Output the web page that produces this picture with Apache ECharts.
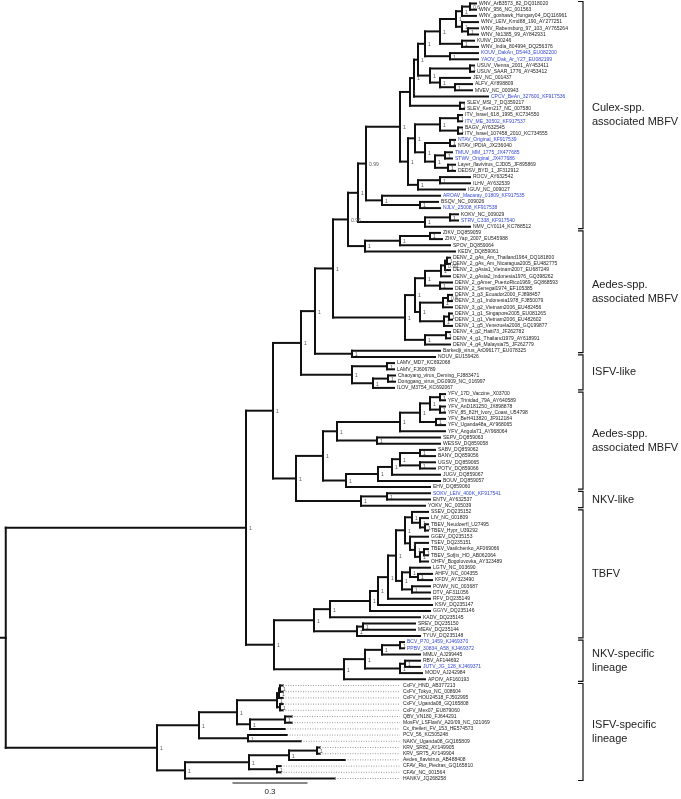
<!DOCTYPE html>
<html><head><meta charset="utf-8">
<script src="https://cdn.jsdelivr.net/npm/echarts@6/dist/echarts.min.js"></script>
<style>html,body{margin:0;padding:0;background:#fff}#c{width:681px;height:799px}</style>
</head><body><div id="c"></div>
<script>
// ================= DATA (Newick pieces: name:branchLength, internal label = support) =================
const wnvClade = "((((WNV_ArB3573_82_DQ318020:0.024,WNV_956_NC_001563:0.024)0.6:0.032,WNV_goshawk_Hungary04_DQ116961:0.056)1:0.024,(WNV_LEIV_Krnd88_190_AY277251:0.064,(WNV_Rabensburg_97_103_AY765264:0.04,WNV_Nt1385_99_AY842931:0.04)1:0.024)1:0.024)1:0.064,(KUNV_D00246:0.048,WNV_India_804994_DQ256376:0.064)1:0.088)1:0.06";
const jeClade = "((" + wnvClade + ",(KOUV_DakAn_D5443_EU082200:0.112,YAOV_Dak_Ar_Y27_EU082199:0.112)1:0.1)1:0.028,((USUV_Vienna_2001_AY453411:0.016,USUV_SAAR_1776_AY453412:0.016)1:0.16,(JEV_NC_001437:0.12,(ALFV_AY898809:0.068,MVEV_NC_000943:0.068)1:0.06)1:0.04)1:0.048)1:0.016";
const ntayaClade = "(((ITV_Israel_618_1995_KC734550:0.016,ITV_ME_30502_KF917537:0.016)1:0.072,(BAGV_AY632545:0.016,ITV_Israel_107458_2010_KC734555:0.016)1:0.072)1:0.1,((NTAV_Original_KF917539:0.02,NTAV_IPDIA_JX236040:0.02)1:0.1,((TMUV_MM_1775_JX477685:0.028,STWV_Original_JX477686:0.028)1:0.04,(Layer_flavivirus_CJD05_JF895869:0.028,DEDSV_BYD_1_JF312912:0.028)1:0.052)1:0.04)1:0.04)1:0.028";
const culexBig = "(((" + jeClade + ",CPCV_BeAn_327600_KF917536:0.296)1:0.016,(SLEV_MSI_7_DQ359217:0.016,SLEV_Kern217_NC_007580:0.016)1:0.2)1:0.04,(" + ntayaClade + ",((ROCV_AY632542:0.12,ILHV_AY632539:0.12)1:0.088,IGUV_NC_009027:0.188)1:0.04)1:0.032)1:0.136";
const culexClade = "((" + culexBig + ",(AROAV_Macaray_01809_KF917535:0.232,(BSQV_NC_009026:0.072,NJLV_25008_KF917538:0.08)1:0.152)1:0.064)0.99:0.032,((KOKV_NC_009029:0.032,STRV_C338_KF917540:0.032)1:0.1,NMV_CY0114_KC788512:0.18)1:0.268)1:0.04";
const zikaClade = "(((ZIKV_DQ859059:0.04,ZIKV_Yap_2007_EU545988:0.048)1:0.12,SPOV_DQ859064:0.2)1:0.14,KEDV_DQ859061:0.36)1:0.068";
const denvClade = "((((((DENV_2_gAs_Am_Thailand1964_DQ181800:0.012,DENV_2_gAs_Am_Nicaragua2005_EU482775:0.012)1:0.008,DENV_2_gAsia1_Vietnam2007_EU687249:0.02)0.99:0.016,DENV_2_gAsia2_Indonesia1976_GQ398262:0.036)1:0.064,(DENV_2_gAmer_PuertoRico1969_GQ868593:0.048,DENV_2_Senegal1974_EF105385:0.048)1:0.06)1:0.04,(((DENV_3_g3_Ecuador2000_FJ898457:0.016,DENV_3_g1_Indonesia1978_FJ850079:0.016)0.5:0.02,DENV_3_g2_Vietnam2006_EU482456:0.036)1:0.092,((DENV_1_g1_Singapore2005_EU081265:0.012,DENV_1_g1_Vietnam2006_EU482602:0.012)1:0.02,DENV_1_g5_Venezuela2008_GQ199877:0.032)1:0.096)1:0.02)1:0.04,((DENV_4_g2_Haiti73_JF262782:0.016,DENV_4_g1_Thailand1979_AY618991:0.016)1:0.084,DENV_4_g4_Malaysia75_JF262779:0.1)1:0.08)1:0.288";
const isfvLikeClade = "((LAMV_MD7_KC692068:0.028,LAMV_FJ606789:0.028)1:0.14,((Chaoyang_virus_Deming_FJ883471:0.028,Donggang_virus_DG0909_NC_016997:0.028)1:0.06,ILOV_M3754_KC692067:0.084)1:0.084)1:0.204";
const mbfvUpper = "((((" + culexClade + "," + zikaClade + ")0.95:0.06," + denvClade + ")1:0.072,(Barkedji_virus_ArD96177_EU078325:0.352,NOUV_EU159426:0.332)1:0.148)1:0.056," + isfvLikeClade + ")1:0.112";
const yfvClade = "((((((YFV_17D_Vaccine_X03700:0.02,YFV_Trinidad_79A_AY640589:0.02)1:0.04,(YFV_AnD181250_JX898878:0.02,YFV_85_82H_Ivory_Coast_U54798:0.02)1:0.04)1:0.04,(YFV_BeH413820_JF912184:0.036,YFV_Uganda48a_AY968065:0.036)1:0.064)1:0.08,YFV_Angola71_AY968064:0.18)1:0.252,(SEPV_DQ859063:0.252,WESSV_DQ859058:0.252)1:0.16)1:0.056,(((((SABV_DQ859062:0.06,BANV_DQ859056:0.06)1:0.08,(UGSV_DQ859065:0.06,POTV_DQ859066:0.06)1:0.08)1:0.032,JUGV_DQ859067:0.192)1:0.056,BOUV_DQ859057:0.248)1:0.128,EHV_DQ859060:0.336)1:0.092)1:0.108";
const nkvLikeClade = "((SOKV_LEIV_400K_KF917541:0.172,ENTV_AY632537:0.172)1:0.104,YOKV_NC_005039:0.256)1:0.26";
const tbfvMammal = "(((SSEV_DQ235152:0.064,(LIV_NC_001809:0.032,(TBEV_Neudoerfl_U27495:0.012,TBEV_Hypr_U39292:0.012)1:0.02)1:0.032)1:0.028,(GGEV_DQ235153:0.072,(TSEV_DQ235151:0.052,((TBEV_Vasilchenko_AF069066:0.016,TBEV_Sofjin_HO_AB062064:0.016)1:0.016,OHFV_Bogoluvovka_AY323489:0.032)1:0.02)1:0.02)1:0.02)1:0.036,((LGTV_NC_003690:0.08,(AHFV_NC_004355:0.056,KFDV_AY323490:0.056)1:0.032)1:0.032,(POWV_NC_003687:0.072,DTV_AF311056:0.072)1:0.04)1:0.024)1:0.032";
const tbfvClade = "(((((" + tbfvMammal + ",RFV_DQ235149:0.168)1:0.04,KSIV_DQ235147:0.216)1:0.032,GGYV_DQ235146:0.24)1:0.16,KADV_DQ235145:0.36)1:0.064,((SREV_DQ235150:0.208,MEAV_DQ235144:0.208)1:0.024,TYUV_DQ235148:0.252)1:0.172)1:0.16";
const nkvSpecClade = "((((BCV_P70_1459_KJ469370:0.016,PPBV_30834_A58_KJ469372:0.016)1:0.072,MMLV_AJ299445:0.152)1:0.068,((RBV_AF144692:0.06,JUTV_JG_128_KJ469371:0.06)1:0.02,MODV_AJ242984:0.088)1:0.14)1:0.084,APOIV_AF160193:0.324)1:0.28";
const isfvSpecClade = "((((((CxFV_HND_AB377213:0.012,CxFV_Tokyo_NC_008604:0.012)1:0.004,CxFV_HOU24518_FJ502995:0.016)1:0.008,(CxFV_Uganda08_GQ165808:0.012,CxFV_Mex07_EU879060:0.012)1:0.012)1:0.16,((QBV_VN180_FJ644291:0.028,MosFV_LSFlaviV_A20/09_NC_021069:0.028)1:0.14,Cx_theileri_FV_153_HE574573:0.14)1:0.052)1:0.152,(PCV_56_KC505248:0.156,NAKV_Uganda08_GQ165809:0.212)1:0.196)1:0.168,((((KRV_SR82_AY149905:0.012,KRV_SR75_AY149904:0.012)1:0.112,Aedes_flavivirus_AB488408:0.224)1:0.16,(CFAV_Rio_Piedras_GQ165810:0.016,CFAV_NC_001564:0.016)1:0.112)1:0.256,HANKV_JQ268258:0.6)1:0.112)1:0.605";
const treeNewick = "((((" + mbfvUpper + ",(" + yfvClade + "," + nkvLikeClade + ")1:0.092)1:0.108,(" + tbfvClade + "," + nkvSpecClade + ")1:0.112)1:0.961," + isfvSpecClade + "):0.023;";

const blueTaxa = ["KOUV_DakAn_D5443_EU082200","YAOV_Dak_Ar_Y27_EU082199","CPCV_BeAn_327600_KF917536","ITV_ME_30502_KF917537","NTAV_Original_KF917539","TMUV_MM_1775_JX477685","STWV_Original_JX477686","AROAV_Macaray_01809_KF917535","NJLV_25008_KF917538","STRV_C338_KF917540","SOKV_LEIV_400K_KF917541","BCV_P70_1459_KJ469370","PPBV_30834_A58_KJ469372","JUTV_JG_128_KJ469371"];
const dottedTaxa = ["CxFV_HND_AB377213","CxFV_Tokyo_NC_008604","CxFV_HOU24518_FJ502995","CxFV_Uganda08_GQ165808","CxFV_Mex07_EU879060","QBV_VN180_FJ644291","MosFV_LSFlaviV_A20/09_NC_021069","Cx_theileri_FV_153_HE574573","PCV_56_KC505248","NAKV_Uganda08_GQ165809","KRV_SR82_AY149905","KRV_SR75_AY149904","Aedes_flavivirus_AB488408","CFAV_Rio_Piedras_GQ165810","CFAV_NC_001564","HANKV_JQ268258"];
const groupNames = [["Culex-spp.","associated MBFV"],["Aedes-spp.","associated MBFV"],["ISFV-like"],["Aedes-spp.","associated MBFV"],["NKV-like"],["TBFV"],["NKV-specific","lineage"],["ISFV-specific","lineage"]];
const groupFirst = ["WNV_ArB3573_82_DQ318020","ZIKV_DQ859059","NOUV_EU159426","YFV_17D_Vaccine_X03700","SOKV_LEIV_400K_KF917541","SSEV_DQ235152","BCV_P70_1459_KJ469370","CxFV_HND_AB377213"];
const groupLast = ["NMV_CY0114_KC788512","Barkedji_virus_ArD96177_EU078325","ILOV_M3754_KC692067","EHV_DQ859060","YOKV_NC_005039","TYUV_DQ235148","APOIV_AF160193","HANKV_JQ268258"];
const scaleBarValue = 0.3;

// ================= LAYOUT CONSTANTS =================
const W = 681, H = 799;
const PX_PER_UNIT = 250;
const FIRST_LEAF_PX = 3.5, LAST_LEAF_PX = 778.5;
const DOTTED_ALIGN_X = 400;
const BRACKET_X = 583;
const SCALE_START = 0.93;

// ================= PARSE & LAYOUT =================
function parseNewick(s) {
  let i = 0;
  function node() {
    const n = { children: [], name: '', len: 0, support: '' };
    if (s[i] === '(') {
      i++;
      n.children.push(node());
      while (s[i] === ',') { i++; n.children.push(node()); }
      i++;
    }
    let lab = '';
    while (i < s.length && !',():;'.includes(s[i])) lab += s[i++];
    if (n.children.length) n.support = lab; else n.name = lab;
    if (s[i] === ':') { i++; let num = ''; while (i < s.length && !',();'.includes(s[i])) num += s[i++]; n.len = parseFloat(num); }
    return n;
  }
  return node();
}
const root = parseNewick(treeNewick);
const leaves = [], segs = [], supports = [];
function lay(n, px) {
  n.x = px + n.len;
  if (!n.children.length) { n.y = leaves.length; leaves.push(n); }
  else {
    n.children.forEach(c => lay(c, n.x));
    n.y = (n.children[0].y + n.children[n.children.length - 1].y) / 2;
  }
  segs.push([px, n.y, n.x, n.y, 0]);
  if (n.children.length) {
    segs.push([n.x, n.children[0].y, n.x, n.children[n.children.length - 1].y, 0]);
    if (n.support) supports.push([n.x, n.y, n.support]);
  }
}
lay(root, 0);
const N = leaves.length;
const S = (LAST_LEAF_PX - FIRST_LEAF_PX) / (N - 1);
const yMin = -FIRST_LEAF_PX / S, yMax = (H - FIRST_LEAF_PX) / S;
const xMax = W / PX_PER_UNIT;
const leafIdx = {}; leaves.forEach((l, k) => leafIdx[l.name] = k);
const alignX = DOTTED_ALIGN_X / PX_PER_UNIT;
leaves.forEach(l => { if (dottedTaxa.includes(l.name) && l.x < alignX) segs.push([l.x, l.y, alignX, l.y, 1]); });
const labelItems = leaves.map(l => [dottedTaxa.includes(l.name) ? Math.max(alignX, l.x) : l.x, l.y, l.name, blueTaxa.includes(l.name) ? '#3347d6' : '#222']);

const FONT = '"Liberation Sans", Arial, sans-serif';
const chart = echarts.init(document.getElementById('c'), null, { renderer: 'canvas' });
chart.setOption({
  animation: false,
  backgroundColor: '#fff',
  grid: { left: 0, right: 0, top: 0, bottom: 0 },
  xAxis: { type: 'value', min: 0, max: xMax, show: false },
  yAxis: { type: 'value', min: yMin, max: yMax, inverse: true, show: false },
  series: [
    {
      type: 'custom', data: segs.map(s => [s[0], s[1], s[2], s[3], s[4]]),
      renderItem(params, api) {
        const a = api.coord([api.value(0), api.value(1)]);
        const b = api.coord([api.value(2), api.value(3)]);
        const dotted = api.value(4) === 1;
        return { type: 'line', shape: { x1: a[0], y1: a[1], x2: b[0], y2: b[1] },
          style: dotted ? { stroke: '#9a9a9a', lineWidth: 1, lineDash: [1, 1.5] } : { stroke: '#111', lineWidth: 2, lineCap: 'square' } };
      }
    },
    {
      type: 'custom', data: labelItems.map(d => [d[0], d[1]]),
      renderItem(params, api) {
        const d = labelItems[params.dataIndex];
        const p = api.coord([d[0], d[1]]);
        return { type: 'text', x: p[0] + 3, y: p[1], style: { text: d[2], fill: d[3], font: '5px ' + FONT, textVerticalAlign: 'middle' } };
      }
    },
    {
      type: 'custom', data: supports.map(d => [d[0], d[1]]),
      renderItem(params, api) {
        const d = supports[params.dataIndex];
        const p = api.coord([d[0], d[1]]);
        return { type: 'text', x: p[0] + 3, y: p[1] + 1, style: { text: d[2], fill: '#555', font: '5px ' + FONT, textVerticalAlign: 'middle' } };
      }
    },
    {
      type: 'custom', data: groupNames.map((g, k) => [leafIdx[groupFirst[k]], leafIdx[groupLast[k]]]),
      renderItem(params, api) {
        const k = params.dataIndex;
        const y1 = api.coord([0, api.value(0)])[1] - 2;
        const y2 = api.coord([0, api.value(1)])[1] + 2;
        const ym = (y1 + y2) / 2;
        return { type: 'group', children: [
          { type: 'polyline', shape: { points: [[BRACKET_X - 5, y1], [BRACKET_X, y1], [BRACKET_X, y2], [BRACKET_X - 5, y2]] }, style: { stroke: '#111', lineWidth: 1.2, fill: null } },
          { type: 'text', x: BRACKET_X + 9, y: ym, style: { text: groupNames[k].join('\n'), fill: '#222', font: '11px ' + FONT, textVerticalAlign: 'middle', lineHeight: 14 } }
        ] };
      }
    },
    {
      type: 'custom', data: [[scaleBarValue]],
      renderItem(params, api) {
        const x0 = api.coord([SCALE_START, 0])[0];
        const x1 = api.coord([SCALE_START + api.value(0), 0])[0];
        const y = 783;
        return { type: 'group', children: [
          { type: 'line', shape: { x1: x0, y1: y, x2: x1, y2: y }, style: { stroke: '#111', lineWidth: 1 } },
          { type: 'text', x: (x0 + x1) / 2, y: y + 9, style: { text: String(api.value(0)), fill: '#222', font: '8px ' + FONT, textAlign: 'center', textVerticalAlign: 'middle' } }
        ] };
      }
    }
  ]
});
</script></body></html>
